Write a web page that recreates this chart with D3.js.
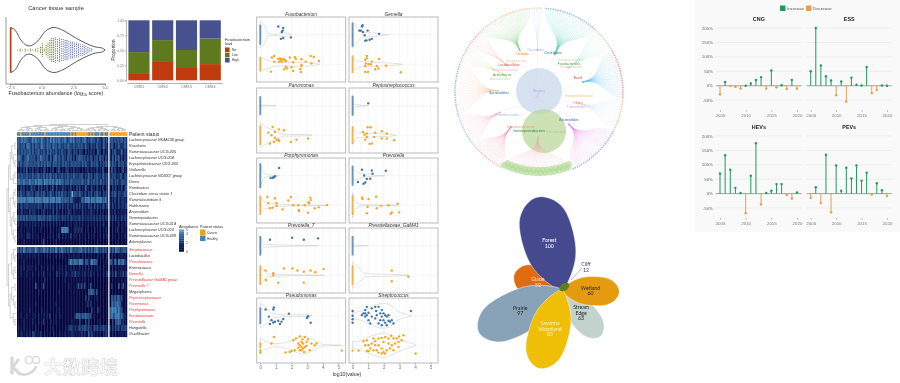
<!DOCTYPE html>
<html>
<head>
<meta charset="utf-8">
<script src="https://cdn.jsdelivr.net/npm/d3@7"></script>
<style>
body { margin: 0; background: #fff; }
svg { display: block; font-family: 'Liberation Sans', Arial, sans-serif; filter: blur(.25px); }
.axis path, .axis line { stroke: #666; stroke-width: .5; }
.axis text { fill: #777; }
</style>
</head>
<body>
<svg id="chart" width="900" height="383"></svg>
<script>
// ---- violin (top left)
var violinValues = [-2.45, -2.05, -1.66, -1, -.34, .32, .98, 1.77, 2.55, 3.34, 4.13, 4.8, 5]
var violinDensity = [1, .85, .46, .18, .38, .85, 1, .85, .58, .34, .15, .08, 0]
var swarmValues = [-1.9, -1.7, -1.5, -1.3, -1.1, -.9, -.7, -.5, -.3, -.1, .05, .2, .35, .5, .65, .8, .95, 1.1, 1.25, 1.4, 1.55, 1.7, 1.85, 2, 2.15, 2.3, 2.45, 2.6, 2.75, 2.9, 3.05, 3.2, 3.35, 3.5, 3.65, 3.8, 3.95]
var swarmCounts = [1, 2, 1, 2, 1, 2, 1, 2, 3, 4, 8, 2, 6, 9, 12, 14, 14, 15, 13, 14, 13, 13, 12, 12, 11, 10, 10, 9, 9, 8, 7, 7, 6, 5, 4, 3, 2]
var violinTicks = [-2.5, 0, 2.5, 5]

// ---- stacked bars
var cmsNames = ['CMS1', 'CMS2', 'CMS3', 'CMS4']
var loadNames = ['No', 'Low', 'High']
var loadNo = [.12, .32, .205, .27]
var loadLow = [.35, .35, .3, .425]
var loadHigh = [.53, .33, .495, .305]
var loadColors = ['#bf3a0c', '#5f7a1e', '#47518f']

// ---- heatmap
var topRowNames = ['Lachnospiraceae NK4A136 group', 'Roseburia', 'Ruminococcaceae UCG-005', 'Lachnospiraceae UCG-004', 'Erysipelotrichaceae UCG-003', 'Veillonella', 'Lachnospiraceae ND3007 group', 'Dorea', 'Romboutsia', 'Clostridium sensu stricto 1', 'Ruminiclostridium 9', 'Holdemania', 'Anaerotilum', 'Gemmiproducens', 'Ruminococcaceae UCG-014', 'Lachnospiraceae UCG-003', 'Ruminococcaceae UCG-008', 'Adenoplasma']
var bottomRowNames = ['Streptococcus', 'Lactobacillus', 'Pseudomonas', 'Enterococcus', 'Gemella', 'Prevotellaceae GaMA1 group', 'Prevotella 7', 'Megasphaera', 'Peptostreptococcus', 'Parvimonas', 'Porphyromonas', 'Fusobacterium', 'Prevotella', 'Hungatella', 'Oscillibacter']
var redRowNames = ['Streptococcus', 'Pseudomonas', 'Gemella', 'Prevotellaceae GaMA1 group', 'Prevotella 7', 'Peptostreptococcus', 'Parvimonas', 'Porphyromonas', 'Fusobacterium', 'Prevotella']
var patientStatus = 'hhchhhhhch hhhhhhhhch hhhhhhhhhh hhhhhchchc ccccccchch chhhchhchh cccccccccccc'
var topRowLevels = [
	'3334343323 4343334323 3343433433 3432343423 3323432233 3223212322 332323233232',
	'3323323432 3233234323 3323332332 2323322322 3232232122 2132212321 232122321232',
	'2323232332 3223322322 3232232223 2212321222 1221021121 2013201211 212321123121',
	'3432133423 2313243323 2131342322 3213231212 3332313132 1231323031 213132312021',
	'3232233323 2323323232 3322332322 3232223232 3223232123 2232122232 323221322312',
	'1020213011 2012010220 1012001310 1022010201 1001012011 1021103100 131210101301',
	'2323223222 3223322323 2332232223 2223222322 2232122322 1232213222 222312132022',
	'3433433343 3343443344 3434334343 3233233232 3233223322 3232232222 232223122322',
	'1021201103 1201212012 1013012011 2110120102 1201131012 1021102012 102120112013',
	'2232212322 2123222321 2232122323 2221225232 2321221222 1232211222 122321221232',
	'4444443444 4344443444 4344434443 3333233110 1033344434 4344443342 111211211211',
	'2122122212 1212221122 1212112121 2112111212 1212111221 1212112212 112111211212',
	'0112011021 1201101210 1102102101 1011210110 1012011021 1011011010 110201010110',
	'3232323223 2322332322 2322222212 2212122121 2212112121 2121212121 212121112121',
	'1101011010 1110101101 0110101010 0101010011 0101001010 1010101100 101001100101',
	'0010000100 1000010000 0010000104 4444000020 2020001000 0100100010 001002000100',
	'0101001210 1001000100 0101000200 1010020010 0100100100 1000100101 001000100010',
	'0000100000 0000000300 0000010000 0000000000 0100010000 0001000000 000001000000'
]
var bottomRowLevels = [
	'3232432333 2343232433 3233243234 3323243232 3342332323 2343223231 323243322332',
	'0101001010 0100100001 0100010010 1000100100 1001010010 0001001001 010100010100',
	'0000100000 0000100000 0000000000 0000343343 3443033034 3330000010 330330433421',
	'0010100101 0010001000 1001000101 0010010100 0101010101 0010100100 101010010100',
	'0010001000 1000100200 0100002010 1020102030 2010201020 1001000102 202030020302',
	'0000000000 0000000010 0000000000 0100000000 0000100000 0000000000 000000000000',
	'0000000000 0030000300 0000000000 0000100000 3030300030 0000000000 020000300300',
	'0000000000 0000100000 0000000100 0000000000 0000000333 3030000000 000000000000',
	'0000000000 0000000000 0000000000 0000000000 0000020200 0010000000 032323322000',
	'0000000000 0010000000 0000010000 0000000000 0000002020 0000000000 033334330000',
	'0000000010 0000001000 0000000100 0000000000 0000000002 0002000000 344443432000',
	'0010001000 0100100101 0200010010 0000000023 3323333230 1000000000 343344433210',
	'0000100000 1000100200 0010010000 0000001000 0200020200 0000100000 002033330200',
	'0100100000 0010000000 0001000000 0010222020 2222322220 2222122221 202122212222',
	'1011001010 2201020010 0100100010 0100102010 1020201312 1010100121 101010010101'
]
var rowTree = [[[[[0, 0], [0, [0, 0]]], [[0, 0], 0]], [[[0, 0], [0, 0]], [[0, [0, 0]], [0, [0, 0]]]]], [[[0, [0, 0]], [[0, 0], 0]], [[[0, 0], [0, [0, 0]]], [0, [0, 0]]]]]
var colTree = [[[[[[0, 0], [0, 0]], [[0, [0, 0]], [0, 0]]], [[[0, 0], [0, [0, 0]]], [[0, 0], [0, 0]]]], [[[[0, 0], [[0, 0], 0]], [[0, 0], [0, 0]]], [[[0, [0, 0]], [0, 0]], [[0, 0], [[0, 0], 0]]]]], [[[[[0, 0], [0, 0]], [0, [0, 0]]], [[[0, 0], 0], [[0, 0], [0, 0]]]], [[[0, 0], [0, 0]], [[0, [0, 0]], [[0, 0], [0, 0]]]]]]
var heatLegendTicks = [0, 2, 4, 5]

// ---- faceted strips, points are [log10 value, jitter]
var facetNames = ['Fusobacterium', 'Gemella', 'Parvimonas', 'Peptostreptococcus', 'Porphyromonas', 'Prevotella', 'Prevotella_7', 'Prevotellaceae_GaM41', 'Pseudomonas', 'Streptococcus']
var facetTicks = [0, 1, 2, 3, 4, 5]
var zeroSpanHealthy = [.34, .4, .32, .34, .42, .34, .33, .33, .28, 0]
var zeroSpanCancer = [.25, .3, .33, .3, .33, .33, .33, .34, .1, 0]
var healthyPoints = [
	[[1.15, .28], [1.47, .23], [1.43, .14], [1.38, .09], [1.96, -.09], [1.47, -.11], [1.32, -.14]],
	[[.6, .28], [.64, .32], [.43, .14], [.53, .14], [.66, .09], [.96, .14], [.77, -.02], [1.7, .03], [1.23, -.14], [1.09, -.17], [.81, -.2], [.89, -.19]],
	[],
	[[1, .08]],
	[[1.21, .26], [.94, -.02], [.87, -.05], [.79, -.07], [.66, -.08]],
	[[.6, .2], [1.23, .18], [1.28, .07], [2.13, .17], [.74, .01], [.34, -.21], [.7, -.27], [.81, -.23], [1.13, -.1], [.91, -.11]],
	[[.62, .2], [2.04, .27], [2.79, .2], [3.7, .25]],
	[],
	[[.34, .21], [.87, .28], [.83, .21], [1.83, .07], [.55, -.03], [.72, -.15], [.94, -.2], [1.15, -.17], [1.47, -.11], [1.36, -.2], [1.26, -.28], [.62, -.28], [.83, -.23], [3.06, -.02], [3, -.07], [3.23, -.24]],
	[[.81, .19], [.91, .3], [.7, .08], [1.02, .1], [1.23, .25], [1.45, .3], [1.51, .16], [1.66, .3], [1.87, .19], [1.77, .08], [1.55, .02], [1.98, .08], [1.87, -.03], [2.09, .02], [2.19, -.03], [1.98, -.15], [1.77, -.15], [2.3, -.17], [2.09, -.24], [2.4, -.2], [2.62, -.26], [2.51, -.15], [.81, -.03], [1.02, -.15], [1.13, -.26], [1.66, -.26], [1.45, -.09], [1.23, -.03], [.6, .02], [.81, .08], [2.3, .02], [2.19, -.32], [1.87, -.32], [.91, .02], [3.74, .16], [0, .16], [0, 0], [0, -.12], [0, -.24]]
]
var cancerPoints = [
	[[.74, .23], [.89, .28], [.89, .09], [1.15, .18], [1.26, .2], [1.36, .17], [1.47, .18], [1.21, .09], [1.3, .11], [1.43, .09], [1.57, .15], [1.64, .11], [1.89, .23], [2.21, .24], [2.28, .18], [2.11, .07], [2.64, .17], [3.23, .28], [3.43, .25], [3.77, .11], [2.91, .09], [2.64, -.02], [2.64, -.06], [1.64, -.08], [1.53, -.17], [1.72, -.14], [2, -.1], [2.11, -.23], [2.57, -.16], [2.6, -.26], [.68, -.25], [3.28, .03]],
	[[.91, .28], [.81, .15], [.91, .2], [1.23, .09], [1.7, .18], [.85, .03], [1.02, 0], [.81, -.06], [1.55, -.06], [1.66, -.14], [1.45, -.17], [.81, -.26], [.98, -.26], [2.15, -.05], [3.09, -.27], [1.17, 0]],
	[[.79, .28], [1.19, .2], [1.51, .17], [.51, .09], [.72, 0], [.94, .11], [.94, -.08], [1.04, -.15], [.87, -.23], [1.15, -.15], [1.21, -.19], [.62, -.28], [1.96, -.23], [2.32, -.15], [3.06, -.11]],
	[[.96, .27], [1.15, .27], [.66, .11], [.77, .02], [.91, .06], [1.45, .09], [1.87, .14], [2.19, .06], [1.38, -.06], [.91, -.06], [1.87, -.11], [2.19, -.11], [.81, -.15], [2.66, -.17], [1.09, -.29], [1.23, -.28]],
	[[.45, .28], [.94, .24], [1.04, .07], [.51, .07], [1.79, .16], [1.96, .28], [2.11, 0], [2.43, 0], [2.85, 0], [3.13, .07], [3.21, .26], [3.23, .18], [3.09, .1], [4.28, .01], [3.74, -.07], [3.49, -.1], [2.47, -.19], [2.47, -.16], [3.06, -.25], [1.43, -.14], [.79, -.08], [.62, -.1], [1.04, -.02]],
	[[.6, .26], [.64, .21], [1.02, .21], [1.51, .29], [.96, -.05], [1.55, -.1], [.91, -.27], [2.3, 0], [2.89, .05], [2.51, -.24], [2.45, -.29], [2.98, -.24], [1.83, -.02]],
	[[1.51, .23], [2.06, .23], [2.38, .16], [2.79, .12], [3.23, .16], [3.53, .1], [4.06, .21], [.83, .07], [.83, 0], [.34, .16], [.36, -.16], [1.15, -.25], [2.79, -.25]],
	[[2.51, .16], [2.51, -.2], [3.57, -.05]],
	[[.87, .28], [.72, .06], [2.11, .17], [2.28, .23], [2.53, .3], [2.85, .28], [2.64, .11], [2.74, .06], [2.96, .11], [2.43, .06], [2.85, -.06], [2.64, -.06], [2.74, -.11], [2.64, -.17], [2.21, -.17], [2, -.19], [1.62, -.24], [1.89, -.23], [3.17, -.17], [3.49, 0], [3.6, .06], [3.06, .2], [3.28, .06], [2.81, -.23], [2.53, 0], [2.7, .2], [5.23, -.18], [2.43, -.08], [2.96, -.02], [2.53, -.17], [0, -.18], [0, -.25]],
	[[4.04, -.28], [0, -.18], [.38, -.18], [.91, -.19], [.7, .14], [.91, .17], [1.02, 0], [.81, 0], [1.23, .06], [1.34, .23], [1.45, .14], [1.66, .23], [1.87, .25], [2.09, .28], [2.3, .23], [2.47, .32], [2.62, .23], [2.83, .23], [2.98, .3], [3.26, .34], [3.15, .17], [2.94, .11], [2.72, .06], [2.51, 0], [2.3, .06], [1.98, .11], [1.66, 0], [1.45, 0], [1.13, -.11], [1.02, -.2], [1.34, -.17], [1.55, -.17], [1.87, -.11], [1.98, -.23], [2.09, -.28], [1.87, -.28], [2.19, -.17], [2.62, -.17], [2.94, -.06], [2.4, -.11], [1.66, -.25]]
]
var healthyViolins = [
	[[0, .45], [.25, .3], [.5, .04], [1, .02], [1.5, .07], [2, 0]],
	[[0, .45], [.4, .18], [.6, .08], [1.2, .07], [1.8, .03], [2.3, 0]],
	[[0, .03], [1, 0]],
	[[0, .3], [.1, .05], [1, 0]],
	[[0, .42], [.2, .1], [.6, .03], [1.2, 0]],
	[[0, .2], [.3, .12], [.8, .05], [2.1, 0]],
	[[0, .32], [.2, .05], [3.7, 0]],
	[[0, .03], [1, 0]],
	[[0, .42], [.3, .3], [.8, .08], [1.5, .03], [3, .03], [3.3, 0]],
	[[0, .1], [.5, .15], [1, .25], [1.5, .38], [2, .42], [2.5, .33], [3, .12], [3.5, .05], [3.8, 0]]
]
var cancerViolins = [
	[[0, .22], [.6, .12], [1, .06], [2, .06], [3, .06], [3.8, 0]],
	[[0, .2], [.5, .1], [1, .08], [2, .05], [3, .02], [3.2, 0]],
	[[0, .42], [.5, .25], [1, .14], [1.5, .03], [3, .02], [3.3, 0]],
	[[0, .3], [.3, .08], [1, .06], [2.4, .03], [2.8, 0]],
	[[0, .25], [.3, .12], [1, .05], [2, .02], [4.3, 0]],
	[[0, .42], [.15, .15], [.5, .03], [2.9, 0]],
	[[0, .3], [.3, .15], [.5, .04], [4.1, 0]],
	[[0, .45], [.4, .25], [.8, .05], [2.5, .03], [3.6, 0]],
	[[0, .25], [.5, .1], [1, .05], [1.8, .12], [2.7, .3], [3.5, .15], [4, .03], [5.2, 0]],
	[[0, .12], [.5, .15], [1, .28], [1.5, .36], [2, .42], [2.5, .32], [3, .2], [3.5, .1], [4, .02], [4.05, 0]]
]

// ---- circular tree, clockwise from the top
var familyNames = ['Clostridiales', 'Fusobacteriales', 'Bacilli', 'Erysipelotrichales', 'Bacteroidales', 'Enterobacteriaceae', 'Pasteurellaceae', 'Enterobacterales', 'Bacteroidetes', 'Actinomyces', 'Lactobacillales', 'Clostridia', 'Tissierellia']
var familyLeaves = [23, 11, 21, 14, 24, 30, 15, 14, 22, 8, 8, 23, 5]
var familyRadius = [41, 38, 45, 41, 44, 45, 45, 44, 41, 39, 41, 46, 42]
var familyLink = ['#4fd0ae', '#a8e6cf', '#62c1f4', '#cfe0f5', '#e48be8', '#e6b8b0', '#f08a9a', '#f7b3c0', '#f3c9a5', '#d6e4a8', '#f6b5b5', '#86d284', '#b8d8f0']
var familyLeafColor = ['#8fb4d8', '#b7dfa8', '#ec8d92', '#f5c28a', '#8fb4d8', '#b5dc9a', '#f4b6c2', '#a8cbe8', '#8fbadc', '#a5d49a', '#f5a3a3', '#f8c9a0', '#c9e2c0']
var treeLabels = [
	['Clostridia', 522, 54, '#ee8a2a'], ['Clostridiales', 536, 50, '#a9b8de'], ['Clostridiales', 553, 53, '#2f6fa8'],
	['Fusobacteriales', 569, 63.5, '#4f9e3f'], ['Fusobacteriaceae', 571, 60, '#b9dcae'], ['Fusobacterium', 571, 67, '#e8b4c0'],
	['Bacilli', 578, 78, '#e0484c'], ['Erysipelotrichaceae', 579, 96, '#f3c08a'], ['Others', 578, 103, '#ee8a2a'],
	['Tissierellales', 576, 107, '#c9a6dc'], ['Bacteroidales', 569, 120, '#2f6fa8'], ['Enterobacterales', 507, 115, '#9fbede'],
	['Enterobacteriaceae', 521, 127, '#ee9a8a'], ['Gammaproteobacteria', 529, 131, '#2f8a3a'], ['Proteobacteria', 556, 132, '#a9cf8f'],
	['Bacteroidetes', 499, 93, '#2f6fa8'], ['Actinomyces', 502, 75, '#4f9e3f'], ['Actinobacteria', 500, 79, '#b9dcae'],
	['Lactobacillales', 509, 65, '#e0484c'], ['Streptococcaceae', 505, 70, '#f0b8c0'], ['Streptococcus', 516, 61, '#e8c89a'], ['Bacteria', 539, 91, '#b7a6dc']
]

// ---- petals
var petalNames = ['Glade', 'Forest', 'Prairie', 'Stream Edge', 'Wetland', 'Savanna Woodland']
var petalValues = [52, 100, 97, 63, 60, 85]
var petalAngles = [-72, -14.9, 243, 140, 92, 196.6]
var petalWidths = [15, 26, 22, 14, 14.5, 20]
var petalColors = ['#df6c10', '#45498d', '#88a3b8', '#c2d3cd', '#e49b0f', '#efbe07']
var petalText = ['#fbe3c8', '#fff', '#222', '#222', '#222', '#fdf3c8']
var cliffValue = 12
var petalAlong = [0, .08, .3, .55, .8, .92, .985, 1]
var petalSide = [0, .36, .85, 1, .9, .62, .26, 0]

// ---- year on year panels
var fuelYears = d3.range(2005, 2021)
var fuelTicks = [2005, 2010, 2015, 2020]
var fuelPercentTicks = [-50, 0, 50, 100, 150, 200]
var fuelNames = ['CNG', 'ESS', 'HEVs', 'PEVs']
var cngChange = [-30, 13, -1, -4, -10, 0, 8, 20, 30, -10, 53, -5, 2, -11, 20, -10]
var essChange = [50, 200, 70, 33, 18, -33, 15, -55, 28, 4, 1, 65, -25, -15, 1, 0]
var hevChange = [70, 133, 83, 20, 2, -68, 62, 175, -38, 2, 10, 33, 33, -5, -17, 4]
var pevChange = [-15, 22, -33, 135, -65, 98, 10, 90, 53, 98, 45, 73, -3, 36, 12, -8]

var svg = d3.select('#chart')

function addAxis(parent, axis, x, y, size) {
	var g = parent.append('g').attr('class', 'axis').attr('transform', 'translate(' + x + ',' + y + ')').call(axis)
	g.selectAll('text').style('font-size', size + 'px')
	return g
}

function label(parent, text, x, y, size, color, anchor) {
	return parent.append('text').attr('x', x).attr('y', y)
		.attr('text-anchor', anchor || 'middle')
		.style('font-size', size + 'px').attr('fill', color || '#333')
		.text(text)
}

// ---- violin
function drawViolin() {
	var g = svg.append('g')
	var x = d3.scaleLinear().domain([-2.5, 5]).range([10, 105])
	var half = d3.scaleLinear().domain([0, 1]).range([0, 22.5])
	var midY = 50
	var area = d3.area()
		.x(function(d) { return x(d[0]) })
		.y0(function(d) { return midY - half(d[1]) })
		.y1(function(d) { return midY + half(d[1]) })
		.curve(d3.curveMonotoneX)
	g.append('path').datum(d3.zip(violinValues, violinDensity)).attr('d', area)
		.attr('fill', 'none').attr('stroke', '#333').attr('stroke-width', .8)
	g.append('line').attr('x1', x(-2.45)).attr('x2', x(-2.45)).attr('y1', midY - half(1)).attr('y2', midY + half(1))
		.attr('stroke', loadColors[0]).attr('stroke-width', 1.6)
	swarmValues.forEach(function(v, i) {
		d3.range(swarmCounts[i]).forEach(function(k) {
			g.append('circle').attr('cx', x(v))
				.attr('cy', midY + (k - (swarmCounts[i] - 1) / 2) * 1.75)
				.attr('r', .55)
				.attr('fill', v < 1.35 ? loadColors[1] : '#5a66a8')
		})
	})
	addAxis(g, d3.axisBottom(x).tickValues(violinTicks).tickFormat(d3.format('.1f')).tickSize(1.5).tickPadding(.5), 0, 84, 4.4)
	g.append('line').attr('x1', 6).attr('x2', 106).attr('y1', 84).attr('y2', 84).attr('stroke', '#555').attr('stroke-width', .6)
	g.append('line').attr('x1', 6).attr('x2', 6).attr('y1', 17).attr('y2', 84).attr('stroke', '#555').attr('stroke-width', .6)
	label(g, 'Cancer tissue sample', 56, 10, 5.8, '#333')
	var t = label(g, 'Fusobacterium abundance (log', 56, 95, 5.4, '#333')
	t.append('tspan').attr('dy', 1.2).style('font-size', '3.6px').text('10')
	t.append('tspan').attr('dy', -1.2).text(' score)')
}

// ---- stacked bars
function drawStack() {
	var g = svg.append('g')
	var x = d3.scaleBand().domain(cmsNames).range([127.2, 222]).paddingInner(.11).paddingOuter(.05)
	var y = d3.scaleLinear().domain([0, 1]).range([80.3, 20.3])
	var rows = cmsNames.map(function(n, i) { return {name: n, No: loadNo[i], Low: loadLow[i], High: loadHigh[i]} })
	var series = d3.stack().keys(loadNames)(rows)
	series.forEach(function(s, k) {
		g.selectAll(null).data(s).enter().append('rect')
			.attr('x', function(d) { return x(d.data.name) })
			.attr('width', x.bandwidth())
			.attr('y', function(d) { return y(d[1]) })
			.attr('height', function(d) { return y(d[0]) - y(d[1]) })
			.attr('fill', loadColors[k])
	})
	addAxis(g, d3.axisLeft(y).tickValues([0, .25, .5, .75, 1]).tickFormat(d3.format('.2f')).tickSize(1.2).tickPadding(1), 126, 0, 3.4)
	addAxis(g, d3.axisBottom(x).tickSize(1.2).tickPadding(1), 0, 83, 3.8)
	g.append('text').attr('transform', 'translate(115,50) rotate(-90)').attr('text-anchor', 'middle')
		.style('font-size', '4.6px').attr('fill', '#333').text('Proportion')
	label(g, 'Fusobacterium', 225, 40.5, 3.8, '#333', 'start')
	label(g, 'load', 225, 44.5, 3.8, '#333', 'start')
	loadNames.forEach(function(n, i) {
		g.append('rect').attr('x', 225).attr('y', 47.5 + i * 5.2).attr('width', 4.6).attr('height', 4.6).attr('fill', loadColors[i])
		label(g, n, 232, 51 + i * 5.2, 3.2, '#333', 'start')
	})
}

// ---- heatmap
function drawTree(parent, tree, orient) {
	var root = d3.hierarchy(tree, function(d) { return Array.isArray(d) ? d : null })
	var n = root.leaves().length
	d3.cluster().size([n - 1, 1]).separation(function() { return 1 })(root)
	root.links().forEach(function(l) {
		parent.append('path').attr('fill', 'none').attr('stroke', '#777').attr('stroke-width', .35)
			.attr('d', orient(l.source, l.target, n))
	})
}

function drawHeatmap() {
	var g = svg.append('g')
	var topY = d3.scaleBand().domain(topRowNames).range([137, 245])
	var bottomY = d3.scaleBand().domain(bottomRowNames).range([247, 337])
	var colLeft = d3.scaleBand().domain(d3.range(60)).range([17, 108])
	var colRight = d3.scaleBand().domain(d3.range(12)).range([109.5, 127])
	var heat = d3.scaleLinear().domain([0, 1, 2, 3, 4, 5])
		.range(['#03063f', '#091a58', '#153670', '#25548c', '#3a75aa', '#6ba7d8'])

	function colX(c) { return c < 60 ? colLeft(c) : colRight(c - 60) }
	function colW(c) { return (c < 60 ? colLeft : colRight).bandwidth() + .25 }
	function drawRows(names, levels, y) {
		names.forEach(function(name, r) {
			var cells = levels[r].replace(/ /g, '').split('')
			g.selectAll(null).data(cells).enter().append('rect')
				.attr('x', function(d, c) { return colX(c) })
				.attr('width', function(d, c) { return colW(c) })
				.attr('y', y(name)).attr('height', y.bandwidth() + .1)
				.attr('fill', function(d) { return heat(+d) })
			label(g, name, 129, y(name) + 4.3, 3.7, redRowNames.indexOf(name) >= 0 ? '#e53935' : '#333', 'start')
				.style('font-style', 'italic')
		})
	}
	drawRows(topRowNames, topRowLevels, topY)
	drawRows(bottomRowNames, bottomRowLevels, bottomY)

	var status = patientStatus.replace(/ /g, '').split('')
	g.selectAll(null).data(status).enter().append('rect')
		.attr('x', function(d, c) { return colX(c) })
		.attr('width', function(d, c) { return colW(c) })
		.attr('y', 132.2).attr('height', 3.6)
		.attr('fill', function(d) { return d === 'c' ? '#f3a01f' : '#4a83b5' })
	label(g, 'Patient status', 129, 136, 5, '#333', 'start')

	var yLeaf = d3.scaleLinear().domain([0, 17, 18, 32]).range([140, 242, 250, 334])
	var xRow = d3.scaleLinear().domain([0, 1]).range([7, 16.5])
	drawTree(g.append('g'), rowTree, function(s, t) {
		return 'M' + xRow(s.y) + ',' + yLeaf(s.x) + 'V' + yLeaf(t.x) + 'H' + xRow(t.y)
	})
	var yCol = d3.scaleLinear().domain([0, 1]).range([124.5, 131.5])
	drawTree(g.append('g'), colTree, function(s, t, n) {
		var xCol = d3.scaleLinear().domain([0, n - 13, n - 12, n - 1]).range([17.7, 107.3, 110.2, 126.3])
		return 'M' + xCol(s.x) + ',' + yCol(s.y) + 'H' + xCol(t.x) + 'V' + yCol(t.y)
	})

	// legends
	label(g, 'Abundance', 179, 227.5, 3.8, '#333', 'start')
	label(g, 'Patient status', 200, 227.5, 3.8, '#333', 'start')
	var legendY = d3.scaleLinear().domain([0, 5]).range([251.5, 229.5])
	var legendSteps = d3.range(0, 5, .5)
	g.selectAll(null).data(legendSteps).enter().append('rect')
		.attr('x', 179).attr('width', 5)
		.attr('y', function(d) { return legendY(d + .5) })
		.attr('height', legendY(0) - legendY(.5) + .2)
		.attr('fill', function(d) { return heat(d + .25) })
	heatLegendTicks.forEach(function(t) {
		label(g, t, 186, legendY(t) + 1.5, 3.2, '#333', 'start')
	})
	g.append('rect').attr('x', 200).attr('y', 229.5).attr('width', 5.5).attr('height', 5.5).attr('fill', '#f3a01f')
	g.append('rect').attr('x', 200).attr('y', 235.5).attr('width', 5.5).attr('height', 5.5).attr('fill', '#4a83b5')
	label(g, 'Cancer', 207, 233.5, 3.2, '#333', 'start')
	label(g, 'Healthy', 207, 239.5, 3.2, '#333', 'start')
}

// ---- faceted strips
function drawFacets() {
	var g = svg.append('g')
	var colStarts = [256.7, 349]
	var rowStarts = [17, 88, 158, 228, 298]
	var panelW = 89, panelH = 65
	facetNames.forEach(function(name, i) {
		var px = colStarts[i % 2], py = rowStarts[Math.floor(i / 2)]
		var x = d3.scaleLinear().domain([0, 5]).range([px + 3.6, px + 81.6])
		var y = d3.scaleLinear().domain([.4, 2.6]).range([py + panelH, py])
		var p = g.append('g')
		// grid, major and minor
		d3.range(0, 5.5, .5).forEach(function(v) {
			p.append('line').attr('x1', x(v)).attr('x2', x(v)).attr('y1', py).attr('y2', py + panelH)
				.attr('stroke', '#ececec').attr('stroke-width', v % 1 ? .3 : .5)
		})
		;[1, 2].forEach(function(v) {
			p.append('line').attr('x1', px).attr('x2', px + panelW).attr('y1', y(v)).attr('y2', y(v))
				.attr('stroke', '#eaeaea').attr('stroke-width', .5)
		})
		function violin(profile, centre) {
			var area = d3.area()
				.x(function(d) { return x(d[0]) })
				.y0(function(d) { return y(centre + d[1]) })
				.y1(function(d) { return y(centre - d[1]) })
				.curve(d3.curveMonotoneX)
			p.append('path').datum(profile).attr('d', area)
				.attr('fill', '#fff').attr('fill-opacity', .4).attr('stroke', '#c4c4c4').attr('stroke-width', .5)
		}
		violin(healthyViolins[i], 2)
		violin(cancerViolins[i], 1)
		function zeroBar(span, centre, color) {
			if (!span) return
			p.append('line').attr('x1', x(0)).attr('x2', x(0)).attr('y1', y(centre + span)).attr('y2', y(centre - span))
				.attr('stroke', color).attr('stroke-width', 2).attr('stroke-opacity', .8)
		}
		zeroBar(zeroSpanHealthy[i], 2, '#4a7fb0')
		zeroBar(zeroSpanCancer[i], 1, '#f5a623')
		function dots(points, centre, color) {
			p.selectAll(null).data(points).enter().append('circle')
				.attr('cx', function(d) { return x(d[0]) })
				.attr('cy', function(d) { return y(centre + d[1]) })
				.attr('r', 1.2).attr('fill', color)
		}
		dots(healthyPoints[i], 2, '#3f76ab')
		dots(cancerPoints[i], 1, '#f5a623')
		p.append('rect').attr('x', px).attr('y', py).attr('width', panelW).attr('height', panelH)
			.attr('fill', 'none').attr('stroke', '#b3b3b3').attr('stroke-width', .9)
		label(p, name, px + panelW / 2, py - 1.2, 4.8, '#333').style('font-style', 'italic')
		if (i >= 8) {
			addAxis(p, d3.axisBottom(x).tickValues(facetTicks).tickFormat(d3.format('d')).tickSize(1.5).tickPadding(1), 0, py + panelH, 4.6)
				.select('.domain').remove()
		}
	})
	label(g, 'log10(value)', 347, 376, 5.2, '#333')
}

// ---- circular tree
function drawTreeRing() {
	var g = svg.append('g').attr('transform', 'translate(539,92)')
	g.append('circle').attr('r', 23).attr('cy', -1).attr('fill', '#c6d6ea').attr('opacity', .7)
	g.append('circle').attr('r', 22).attr('cx', 5).attr('cy', 39).attr('fill', '#b6d696').attr('opacity', .7)
	var root = d3.hierarchy({children: familyNames.map(function(name, i) {
		return {family: i, children: d3.range(familyLeaves[i]).map(function() { return {family: i} })}
	})})
	var n = root.leaves().length
	var ringR = 84
	d3.cluster().size([2 * Math.PI * (n - 1) / n, ringR]).separation(function() { return 1 })(root)
	var offset = 4 * Math.PI / 180
	root.children.forEach(function(hub) { hub.y = familyRadius[hub.data.family] })
	root.leaves().forEach(function(leaf) { leaf.y = ringR })
	var link = d3.linkRadial()
		.angle(function(d) { return d.x + offset })
		.radius(function(d) { return d.y })
	root.links().forEach(function(l) {
		var top = l.source === root
		g.append('path').attr('d', link(l)).attr('fill', 'none')
			.attr('stroke', top ? '#dcc8ec' : familyLink[l.target.data.family])
			.attr('stroke-width', top ? .35 : .3).attr('stroke-opacity', .65)
	})
	root.leaves().forEach(function(leaf, i) {
		var f = leaf.data.family
		var big = f === 5
		var p = d3.pointRadial(leaf.x + offset, big ? ringR - 3 - (i % 2) * 3 : ringR)
		g.append('circle').attr('cx', p[0]).attr('cy', p[1])
			.attr('r', big ? 3.2 : .9).attr('fill', familyLeafColor[f]).attr('opacity', big ? .7 : .75)
	})
	root.children.forEach(function(hub) {
		var p = d3.pointRadial(hub.x + offset, hub.y)
		g.append('circle').attr('cx', p[0]).attr('cy', p[1]).attr('r', .9).attr('fill', familyLink[hub.data.family])
	})
	treeLabels.forEach(function(t) {
		label(svg, t[0], t[1], t[2] + 1, 3.2, t[3])
	})
}

// ---- petals
function drawPetals() {
	var g = svg.append('g')
	var hub = [561.7, 290]
	var length = d3.scaleLinear().domain([0, 100]).range([0, 48])
	var outline = d3.line().curve(d3.curveCatmullRomClosed)
	function centre(i) {
		var a = petalAngles[i] * Math.PI / 180
		return [hub[0] + length(petalValues[i]) * Math.sin(a), hub[1] - length(petalValues[i]) * Math.cos(a)]
	}
	petalNames.forEach(function(name, i) {
		var L = length(petalValues[i]) * 2
		var right = petalAlong.map(function(a, k) { return [petalSide[k] * petalWidths[i], -a * L] })
		var left = petalAlong.slice(1, -1).reverse().map(function(a) {
			return [-petalSide[petalAlong.indexOf(a)] * petalWidths[i], -a * L]
		})
		g.append('path').attr('d', outline(right.concat(left)))
			.attr('transform', 'translate(' + hub[0] + ',' + hub[1] + ') rotate(' + petalAngles[i] + ')')
			.attr('fill', petalColors[i]).attr('stroke', '#fff').attr('stroke-width', .4)
	})
	g.append('ellipse').attr('transform', 'translate(564.3,287) rotate(-35)').attr('rx', 5.5).attr('ry', 3.6).attr('fill', '#5a7f20')
	g.append('line').attr('x1', 571).attr('y1', 280).attr('x2', 582).attr('y2', 268).attr('stroke', '#45498d').attr('stroke-width', .4)
	petalNames.forEach(function(name, i) {
		var c = centre(i)
		var words = name === 'Savanna Woodland' ? ['Savanna', 'Woodland'] : name === 'Stream Edge' ? ['Stream', 'Edge'] : [name]
		words.concat([petalValues[i]]).forEach(function(w, k) {
			label(g, w, c[0], c[1] + 1.5 + (k - words.length / 2) * 5.6, 5.2, petalText[i]).style('font-family', 'Lato, sans-serif')
		})
	})
	label(g, 'Cliff', 586, 266, 5.2, '#3a3a7a').style('font-family', 'Lato, sans-serif')
	label(g, cliffValue, 586, 272, 5.2, '#3a3a7a').style('font-family', 'Lato, sans-serif')
}

// ---- year on year panels
function drawFuel() {
	var g = svg.append('g')
	g.append('rect').attr('x', 695).attr('y', 0).attr('width', 205).attr('height', 232).attr('fill', '#f9f9f9')
	var series = [cngChange, essChange, hevChange, pevChange]
	var up = '#1e9a5c', down = '#e5a04a'
	fuelNames.forEach(function(name, i) {
		var left = i % 2 === 0
		var x = d3.scaleLinear().domain([2005, 2020]).range(left ? [720, 797] : [810.7, 887])
		var y = d3.scaleLinear().domain([-50, 200]).range(i < 2 ? [100.2, 28] : [208, 136])
		var gridX = left ? [716, 801.7] : [806.7, 891.7]
		fuelPercentTicks.forEach(function(t) {
			g.append('line').attr('x1', gridX[0]).attr('x2', gridX[1]).attr('y1', y(t)).attr('y2', y(t))
				.attr('stroke', t === 0 ? '#8a8a8a' : '#e6e6e6').attr('stroke-width', t === 0 ? .8 : .6)
			if (left) label(g, t + '%', 713, y(t) + 1.5, 4.4, '#666', 'end')
		})
		series[i].forEach(function(v, k) {
			var c = v >= 0 ? up : down
			g.append('line').attr('x1', x(fuelYears[k])).attr('x2', x(fuelYears[k])).attr('y1', y(0)).attr('y2', y(v))
				.attr('stroke', c).attr('stroke-width', 1)
			g.append('circle').attr('cx', x(fuelYears[k])).attr('cy', y(v)).attr('r', 1.2).attr('fill', c)
		})
		var axis = d3.axisBottom(x).tickValues(fuelTicks).tickFormat(d3.format('d')).tickSize(1.5).tickPadding(2)
		addAxis(g, axis, 0, y(-50) + 10, 4.4).select('.domain').remove()
		label(g, name, (gridX[0] + gridX[1]) / 2, i < 2 ? 21 : 129, 5.4, '#222').style('font-weight', 'bold')
	})
	g.append('rect').attr('x', 780).attr('y', 5.5).attr('width', 5.5).attr('height', 5.5).attr('fill', up)
	label(g, 'Increase', 787, 10, 4.4, '#555', 'start')
	g.append('rect').attr('x', 806).attr('y', 5.5).attr('width', 5.5).attr('height', 5.5).attr('fill', down)
	label(g, 'Decrease', 813, 10, 4.4, '#555', 'start')
}

// ---- watermark
function drawWatermark() {
	var g = svg.append('g').attr('fill', 'none').attr('stroke-linecap', 'round')
	var logo = [['M12,358V373', 3.4], ['M18,360L13,367L20,374', 3]]
	logo.forEach(function(s) {
		g.append('path').attr('d', s[0]).attr('stroke', '#d8d8d8').attr('stroke-width', s[1])
	})
	g.append('path').attr('d', 'M17,372C24,378 34,372 36,367').attr('stroke', '#d8d8d8').attr('stroke-width', 2.6)
	g.append('circle').attr('cx', 29).attr('cy', 360).attr('r', 3.6).attr('stroke', '#d8d8d8').attr('stroke-width', 1.4)
	g.append('circle').attr('cx', 36).attr('cy', 360).attr('r', 3.6).attr('stroke', '#d8d8d8').attr('stroke-width', 1.4)
	g.append('text').attr('x', 44).attr('y', 374).attr('textLength', 74)
		.style('font-family', "'Noto Sans CJK SC'").style('font-size', '18px').style('font-weight', 'bold')
		.attr('fill', '#fff').attr('stroke', '#d6d6d6').attr('stroke-width', .6).text('大数跨境')
}

drawViolin()
drawStack()
drawHeatmap()
drawFacets()
drawTreeRing()
drawPetals()
drawFuel()
drawWatermark()
</script>
</body>
</html>
